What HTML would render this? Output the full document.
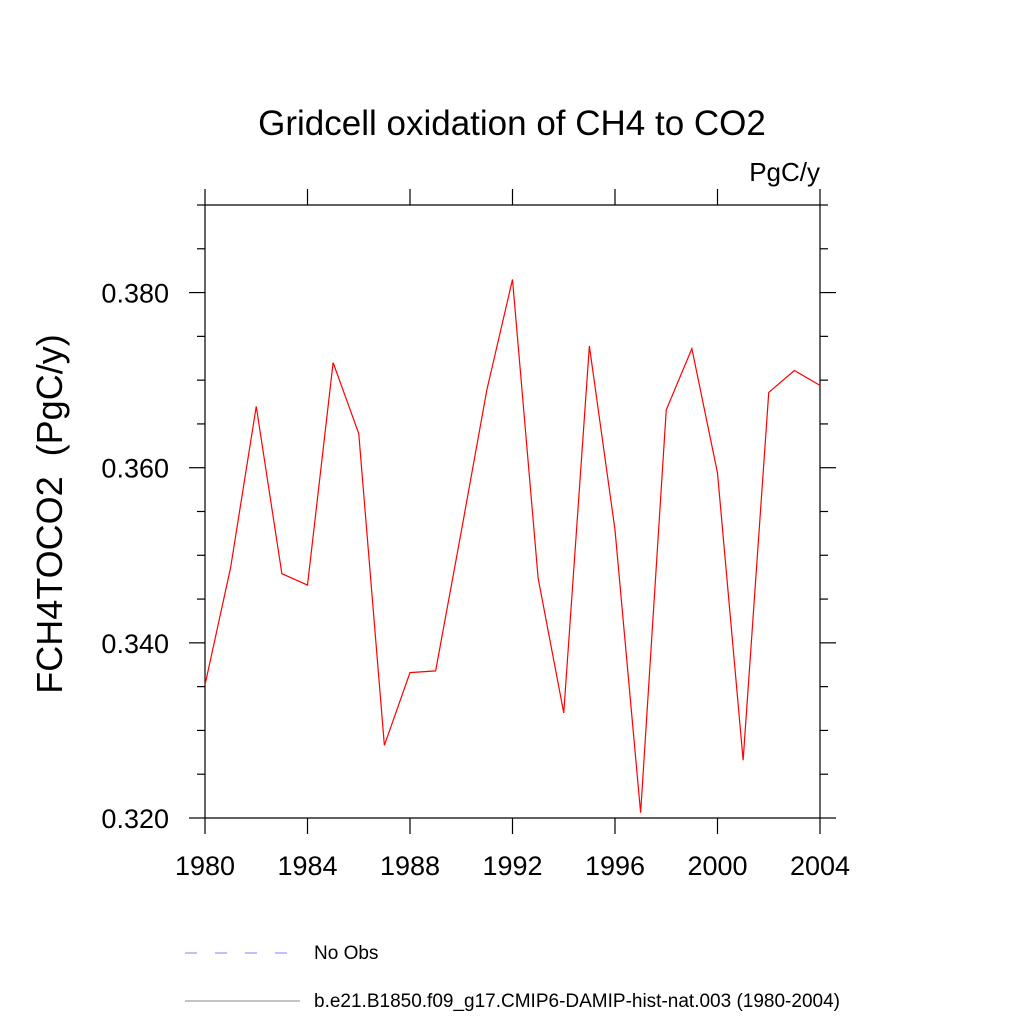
<!DOCTYPE html>
<html><head><meta charset="utf-8"><style>body{margin:0;background:#fff}svg{display:block}text{font-family:"Liberation Sans",sans-serif}</style></head>
<body>
<svg id="c" width="1024" height="1024">
<text x="512" y="135" font-size="35" text-anchor="middle">Gridcell oxidation of CH4 to CO2</text>
<text x="820" y="181" font-size="26" text-anchor="end">PgC/y</text>
<text transform="translate(62,514) rotate(-90)" font-size="36" text-anchor="middle" style="white-space:pre">FCH4TOCO2  (PgC/y)</text>
<g id="axes"></g>
<polyline id="line" fill="none" stroke="#ff0000" stroke-width="1.2"/>
<line x1="185" y1="953" x2="295" y2="953" stroke="#8080ff" stroke-dasharray="12,18"/>
<text x="314" y="959" font-size="19">No Obs</text>
<line x1="185" y1="1001" x2="300" y2="1001" stroke="#888"/>
<text x="314" y="1007" font-size="19">b.e21.B1850.f09_g17.CMIP6-DAMIP-hist-nat.003 (1980-2004)</text>
</svg>
<script>
const years=[1980,1981,1982,1983,1984,1985,1986,1987,1988,1989,1990,1991,1992,1993,1994,1995,1996,1997,1998,1999,2000,2001,2002,2003,2004];
const values=[0.3352,0.3486,0.3670,0.3479,0.3466,0.3720,0.3639,0.3283,0.3366,0.3368,0.3527,0.3689,0.3815,0.3474,0.3320,0.3739,0.3529,0.3206,0.3666,0.3736,0.3594,0.3266,0.3686,0.3711,0.3694];
const xTicks=[1980,1984,1988,1992,1996,2000,2004];
const yTicks=[0.32,0.34,0.36,0.38];
const yTickLabels=["0.320","0.340","0.360","0.380"];
const X0=205,X1=820,Y0=818,Y1=205,xmin=1980,xmax=2004,ymin=0.32,ymax=0.39;
const xs=v=>X0+(v-xmin)/(xmax-xmin)*(X1-X0);
const ys=v=>Y0-(v-ymin)/(ymax-ymin)*(Y0-Y1);
const NS="http://www.w3.org/2000/svg";
const g=document.getElementById('axes');
function ln(x1,y1,x2,y2,name){const l=document.createElementNS(NS,'line');
l.setAttribute('x1',x1);l.setAttribute('y1',y1);l.setAttribute('x2',x2);l.setAttribute('y2',y2);
l.setAttribute('stroke','#000');l.setAttribute('stroke-width','1.2');


g.appendChild(l);}
function tx(x,y,s,anchor,name){const t=document.createElementNS(NS,'text');
t.setAttribute('x',x);t.setAttribute('y',y);t.setAttribute('font-size','27');t.setAttribute('text-anchor',anchor);t.textContent=s;


g.appendChild(t);}
ln(X0,Y1,X1,Y1,'plot-frame-top');ln(X0,Y0,X1,Y0,'plot-frame-bottom');
ln(X0,Y1,X0,Y0,'plot-frame-left');ln(X1,Y1,X1,Y0,'plot-frame-right');
xTicks.forEach(v=>{const x=xs(v);ln(x,Y0,x,Y0+16,'x-tick');ln(x,Y1,x,Y1-16,'x-tick-top');tx(x,875,String(v),'middle','x-tick-label');});
for(let v=0.32;v<=0.3901;v+=0.005){const y=ys(v);const major=Math.abs((v*1000)%20)<0.5||Math.abs((v*1000)%20-20)<0.5;const L=major?16:8;
ln(X0,y,X0-L,y,'y-tick');ln(X1,y,X1+L,y,'y-tick-right');}
yTicks.forEach((v,i)=>tx(169,ys(v)+10,yTickLabels[i],'end','y-tick-label'));
document.getElementById('line').setAttribute('points',years.map((y,i)=>xs(y)+','+ys(values[i])).join(' '));
</script>
</body></html>
